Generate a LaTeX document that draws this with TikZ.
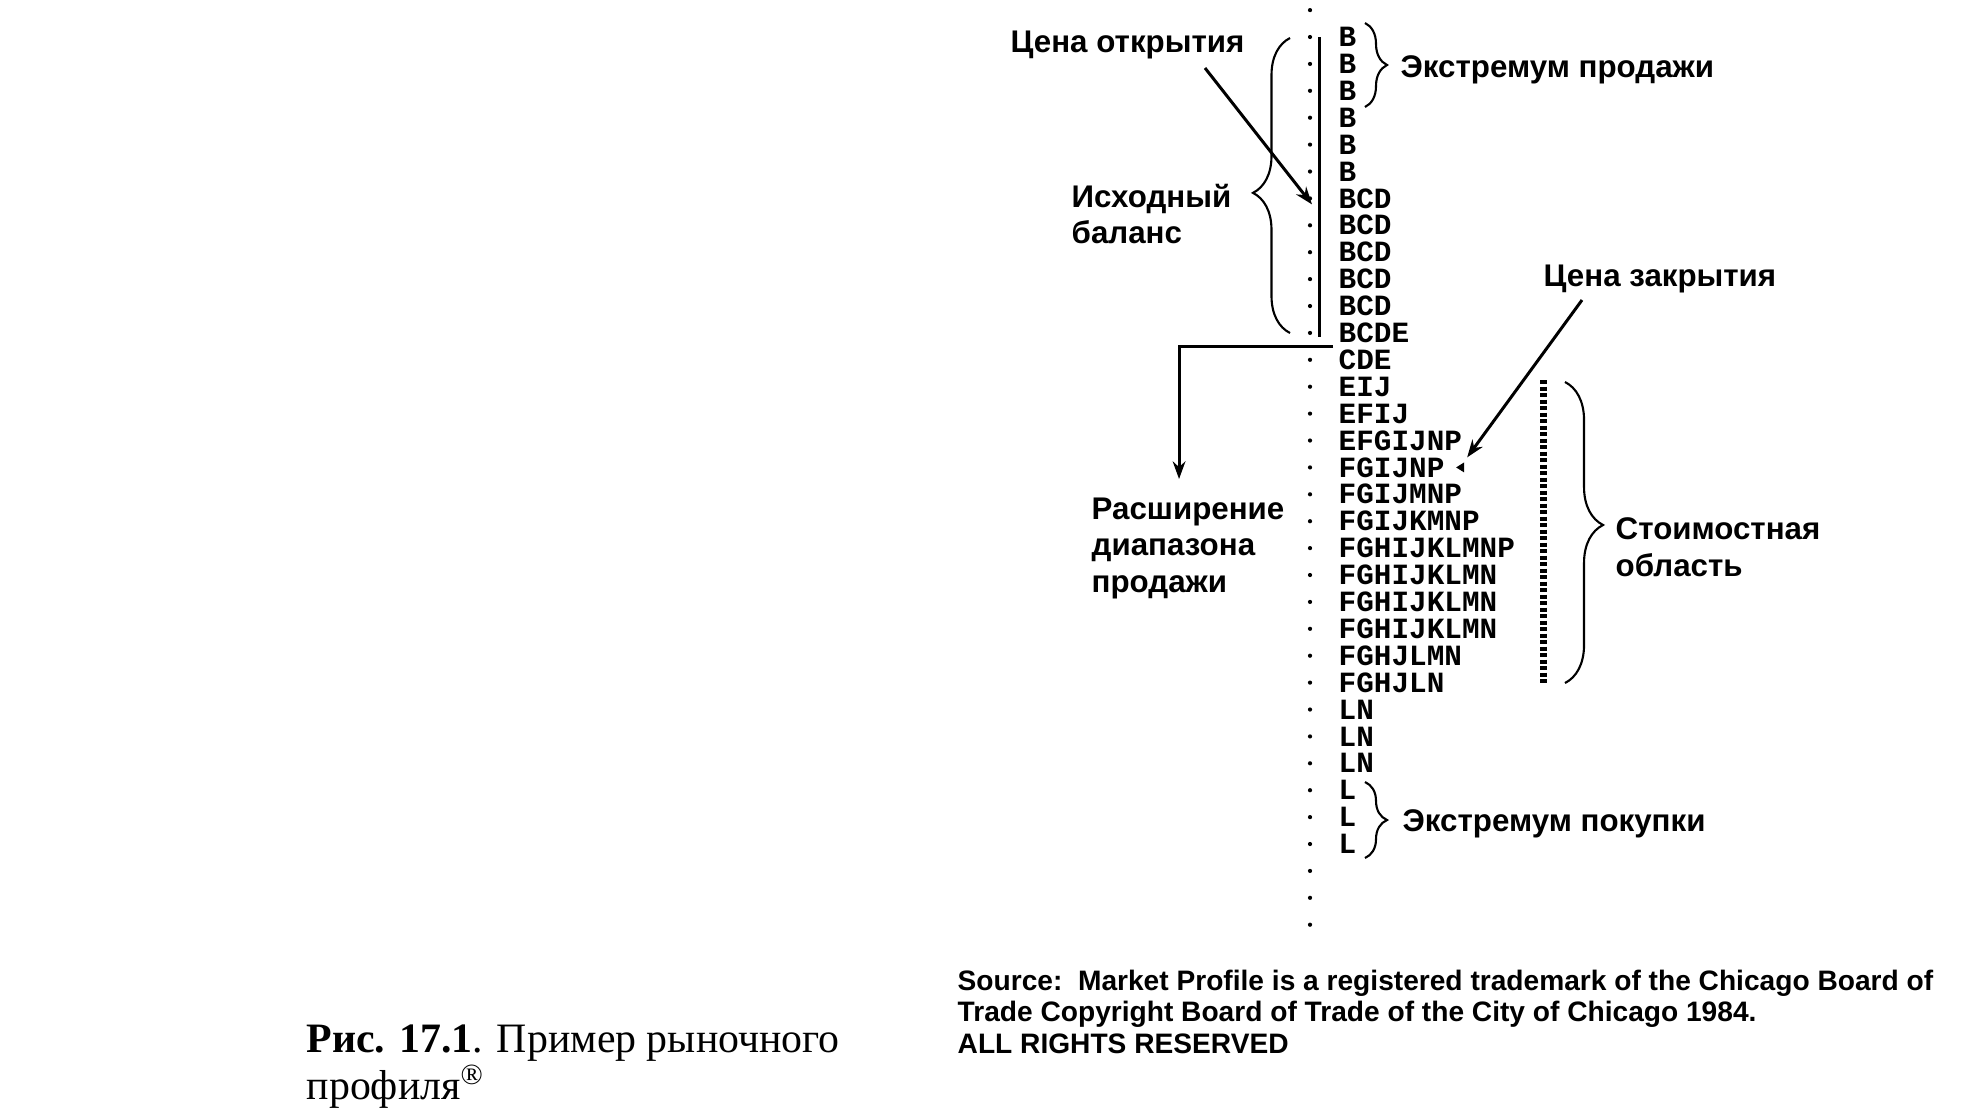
\documentclass[tikz,border=0pt]{standalone}
\usepackage{fontspec}
\setmainfont{Liberation Serif}
\newfontfamily\lblfont{Liberation Sans}
\newfontfamily\rowfont{Liberation Mono}
\usetikzlibrary{arrows.meta,decorations.pathreplacing}

\begin{document}
\begin{tikzpicture}[x=0.01cm, y=-0.01cm, >={Stealth[length=5pt,width=3.6pt]},
	row/.style={anchor=west, inner sep=0pt, font=\rowfont\bfseries\fontsize{8.35}{10}\selectfont},
	lbl/.style={inner sep=0pt, align=left, font=\lblfont\bfseries\fontsize{8.9}{10.4}\selectfont},
	srcnote/.style={inner sep=0pt, align=left, font=\lblfont\bfseries\fontsize{8}{9}\selectfont},
	capt/.style={inner sep=0pt, align=left, font=\fontsize{11.9}{11.4}\selectfont},
	link/.style={line width=0.85pt},
	bracket/.style={decorate, line width=0.6pt, decoration={brace, amplitude=#1}}]
	\useasboundingbox (0,0) rectangle (1964,1111);
	
	% Dots {d-1, d0, ..., d33}
	\foreach \i in {-1,...,33} {
		\coordinate (d\i) at (1310,{37+26.9*\i});
		\fill (d\i) circle [radius=0.021cm];
	}
	
	% Rows {r0, r1, ..., r30}
	\foreach \txt [count=\i from 0] in {B,B,B,B,B,B,BCD,BCD,BCD,BCD,BCD,BCDE,CDE,EIJ,EFIJ,EFGIJNP,FGIJNP,FGIJMNP,FGIJKMNP,FGHIJKLMNP,FGHIJKLMN,FGHIJKLMN,FGHIJKLMN,FGHJLMN,FGHJLN,LN,LN,LN,L,L,L}
		\node [row] (r\i) at (1338,{37+26.9*\i}) {\txt};
	
	% Labels
	\node [lbl, anchor=base west]  (open)  at (1010,52)  {Цена открытия};
	\node [lbl, anchor=base west]  (sx)    at (1400,77)  {Экстремум продажи};
	\node [lbl, anchor=north west] (ib)    at (1071,183) {Исходный\\баланс};
	\node [lbl, anchor=base west]  (close) at (1543,286) {Цена закрытия};
	\node [lbl, anchor=north west] (ext)   at (1091,497) {Расширение\\диапазона\\продажи};
	\node [lbl, anchor=north west] (va)    at (1615,517) {Стоимостная\\область};
	\node [lbl, anchor=base west]  (bx)    at (1402,831) {Экстремум покупки};
	
	\node [srcnote, anchor=north west] (src) at (957,969)
	{Source:\ \ Market Profile is a registered trademark of the Chicago Board of\\
	Trade Copyright Board of Trade of the City of Chicago 1984.\\
	ALL RIGHTS RESERVED};
	\node [capt, anchor=north west] (cap) at (306,1024)
	{\textbf{Рис. 17.1}. Пример рыночного\\профиля\textsuperscript{®}};
	
	% Braces and bars
	\draw [link] (1319,37) -- (1319,337);
	\draw [bracket=0.22cm] (1365,23) -- (1365,107);
	\draw [bracket=0.22cm] (1365,782) -- (1365,858);
	\draw [bracket=0.37cm, decoration={aspect=0.475}] (1290,333) -- (1290,38);
	\draw [bracket=0.38cm, decoration={aspect=0.475}] (1565,382) -- (1565,683);
	\draw [line width=0.07cm, dash pattern=on 0.04cm off 0.025cm] (1543,380) -- (1543,684);
	\fill ([shift={(11,0)}]r16.east) -- ++(8,-5) -- ++(0,10) -- cycle;
	
	% Paths
	\draw [link, ->] ([shift={(195,16)}]open.base west) -- ([shift={(2,6)}]d6);
	\draw [link, ->] ([shift={(39,14)}]close.base west) -- ([shift={(22,-10)}]r16.east);
	\draw [link, ->] ([shift={(-5,-3)}]r12.north west) -| ([shift={(-9,-18)}]ext.north);
	
\end{tikzpicture}
\end{document}
